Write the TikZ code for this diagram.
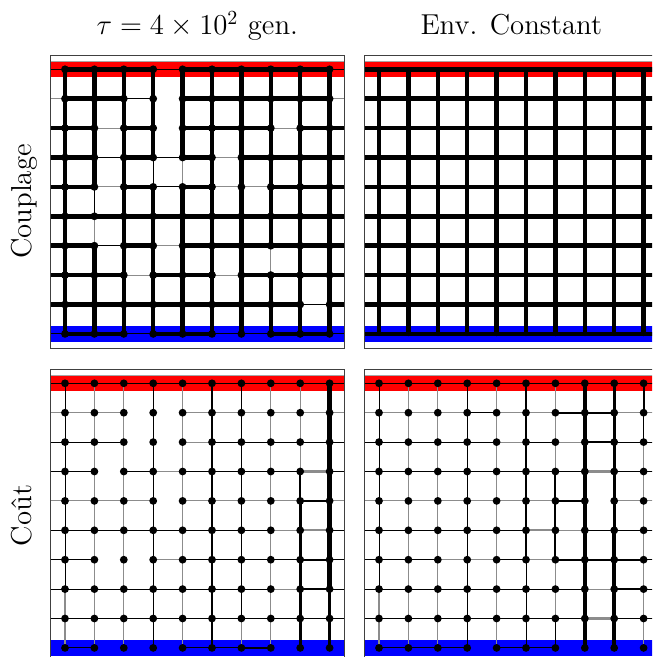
\documentclass[tikz,border=0pt]{standalone}
\usepackage{fontspec}
\begin{document}
\tikzset{
  e0/.style={draw=none},
  eg/.style={draw=black!45, line width=0.55pt},
  ek/.style={draw=black, line width=0.5pt},
  en/.style={draw=black!45, line width=1.1pt},
  em/.style={draw=black, line width=0.95pt},
  et/.style={draw=black, line width=1.4pt},
  eT/.style={draw=black, line width=2.25pt, line cap=round},
  dot/.style={circle, fill=black, inner sep=0pt, minimum size=3.9pt},
  framestyle/.style={draw=black!75, line width=0.45pt},
  bandedge/.style={draw=black!35, line width=0.3pt},
  lab/.style={font=\fontsize{14.4}{17}\selectfont, inner sep=0pt},
}
\newcommand\gridpanel[6]{%
  \foreach \r in {0,...,9}{%
    \coordinate (#1-L-\r) at (#2+50.7,{#3+69.3+29.4*\r});
    \coordinate (#1-R-\r) at (#2+344,{#3+69.3+29.4*\r});
    \foreach \c in {0,...,9}{\coordinate (#1-\r-\c) at ({#2+65+29.4*\c},{#3+69.3+29.4*\r});}
  }
  \begin{scope}
    \clip (#2+50.7,#3+55) rectangle (#2+344,#3+348);
    \fill[red] (#2+50.7,#3+61.6) rectangle (#2+344,#3+77);
    \fill[blue] (#2+50.7,#3+326.2) rectangle (#2+344,#3+341.6);
    \draw[bandedge] (#2+50.7,#3+61.3) -- (#2+344,#3+61.3);
    \foreach \hrow [count=\r from 0] in {#4}{%
      \foreach \code [count=\cc from 0] in \hrow {%
        \ifnum\cc=0
          \draw[e\code] (#1-L-\r) -- (#1-\r-0);
          \draw[e\code] (#1-\r-9) -- (#1-R-\r);
        \else
          \pgfmathtruncatemacro\cp{\cc-1}
          \draw[e\code] (#1-\r-\cp) -- (#1-\r-\cc);
        \fi
      }
    }
    \foreach \vrow [count=\r from 0] in {#5}{%
      \foreach \code [count=\cc from 0] in \vrow {%
        \pgfmathtruncatemacro\rn{\r+1}
        \draw[e\code] (#1-\r-\cc) -- (#1-\rn-\cc);
      }
    }
    \ifnum#6=1
      \foreach \r in {0,...,9}{\foreach \c in {0,...,9}{\node[dot] (#1n-\r-\c) at (#1-\r-\c) {};}}
    \fi
  \end{scope}
  \draw[framestyle] (#2+50.7,#3+55) rectangle (#2+344,#3+348);
}
\begin{tikzpicture}[x=0.5pt,y=-0.5pt]
\useasboundingbox (0,0) rectangle (652,657);
\clip (0,0) rectangle (652,657);
\fill[white] (0,0) rectangle (652,657);

% Panel 1: Couplage, tau
\gridpanel{P1}{0}{0}{%
 {k,T,T,T,k,T,T,T,T,T},
 {g,T,T,k,0,T,T,T,T,T},
 {T,T,g,T,0,T,T,T,g,T},
 {T,T,k,T,k,T,g,T,T,T},
 {T,T,g,T,k,T,g,g,T,T},
 {T,T,T,T,T,T,T,T,T,T},
 {T,T,k,T,g,T,T,T,T,T},
 {T,T,T,g,T,T,g,T,T,T},
 {T,T,T,T,T,T,T,T,T,k},
 {k,T,T,k,T,T,k,k,T,T}}{%
 {T,T,T,T,T,T,T,T,T,T},
 {T,T,T,T,T,T,T,T,T,T},
 {T,T,T,T,T,T,T,T,T,T},
 {T,T,T,k,g,T,T,T,T,T},
 {T,k,T,T,T,T,T,T,T,T},
 {T,g,T,T,T,T,T,T,T,T},
 {T,T,T,T,T,T,T,g,T,T},
 {T,T,T,T,T,T,T,T,T,T},
 {T,T,T,T,T,T,T,T,T,T}}{1}

% Panel 2: Couplage, constant
\gridpanel{P2}{314}{0}{%
 {T,T,T,T,T,T,T,T,T,T},
 {T,T,T,T,T,T,T,T,T,T},
 {T,T,T,T,T,T,T,T,T,T},
 {T,T,T,T,T,T,T,T,T,T},
 {T,T,T,T,T,T,T,T,T,T},
 {T,T,T,T,T,T,T,T,T,T},
 {T,T,T,T,T,T,T,T,T,T},
 {T,T,T,T,T,T,T,T,T,T},
 {T,T,T,T,T,T,T,T,T,T},
 {T,T,T,T,T,T,T,T,T,T}}{%
 {T,T,T,T,T,T,T,T,T,T},
 {T,T,T,T,T,T,T,T,T,T},
 {T,T,T,T,T,T,T,T,T,T},
 {T,T,T,T,T,T,T,T,T,T},
 {T,T,T,T,T,T,T,T,T,T},
 {T,T,T,T,T,T,T,T,T,T},
 {T,T,T,T,T,T,T,T,T,T},
 {T,T,T,T,T,T,T,T,T,T},
 {T,T,T,T,T,T,T,T,T,T}}{0}

% Panel 3: Cout, tau
\gridpanel{P3}{0}{314}{%
 {k,k,k,k,k,k,k,k,k,k},
 {g,g,g,0,0,g,g,g,g,g},
 {k,k,k,0,0,g,k,k,k,k},
 {k,k,0,k,g,k,k,k,k,n},
 {g,g,g,g,0,g,g,g,g,m},
 {k,k,k,k,k,k,k,k,g,n},
 {k,k,0,0,g,k,k,k,k,m},
 {k,k,k,k,k,k,k,k,g,m},
 {k,k,k,k,k,k,k,k,k,k},
 {0,k,0,0,0,k,k,m,0,0}}{%
 {k,g,g,k,g,t,k,g,g,T},
 {k,g,g,k,g,t,k,g,g,T},
 {k,g,g,k,g,t,k,g,g,T},
 {k,g,g,k,g,t,k,g,m,T},
 {k,g,g,k,g,t,k,g,t,T},
 {k,g,g,k,g,t,k,g,t,T},
 {k,g,g,k,g,t,k,g,t,T},
 {n,g,g,k,g,t,k,g,t,t},
 {n,g,g,k,g,t,g,g,t,t}}{1}

% Panel 4: Cout, constant
\gridpanel{P4}{314}{314}{%
 {k,k,k,k,k,k,k,k,k,k},
 {g,g,g,g,k,g,g,m,m,g},
 {k,k,k,k,k,g,k,g,m,k},
 {k,k,k,k,k,k,k,k,n,k},
 {g,g,g,g,g,g,g,m,0,g},
 {k,k,k,k,k,k,n,g,k,k},
 {k,k,k,g,g,k,g,m,m,m},
 {k,k,k,k,k,k,k,k,g,m},
 {k,k,k,k,k,k,k,k,n,k},
 {0,k,k,k,0,k,k,0,0,0}}{%
 {k,g,g,k,g,m,g,T,t,m},
 {k,g,g,k,g,m,g,T,t,k},
 {k,g,g,k,g,m,g,T,t,g},
 {k,g,g,k,g,m,m,T,t,g},
 {k,g,g,k,g,m,m,T,t,g},
 {k,g,g,k,g,m,m,T,T,g},
 {k,g,g,k,g,k,g,T,T,g},
 {g,g,g,k,g,k,g,T,T,g},
 {g,g,g,k,g,k,k,T,T,g}}{1}

\node[lab, anchor=base] (t1) at (197.3,35) {$\tau = 4\times 10^2$ gen.};
\node[lab, anchor=base] (t2) at (511.3,35) {Env. Constant};
\node[lab, anchor=base, rotate=90] (l1) at (31,201.5) {Couplage};
\node[lab, anchor=base, rotate=90] (l2) at (31,515.5) {Coût};
\end{tikzpicture}
\end{document}
